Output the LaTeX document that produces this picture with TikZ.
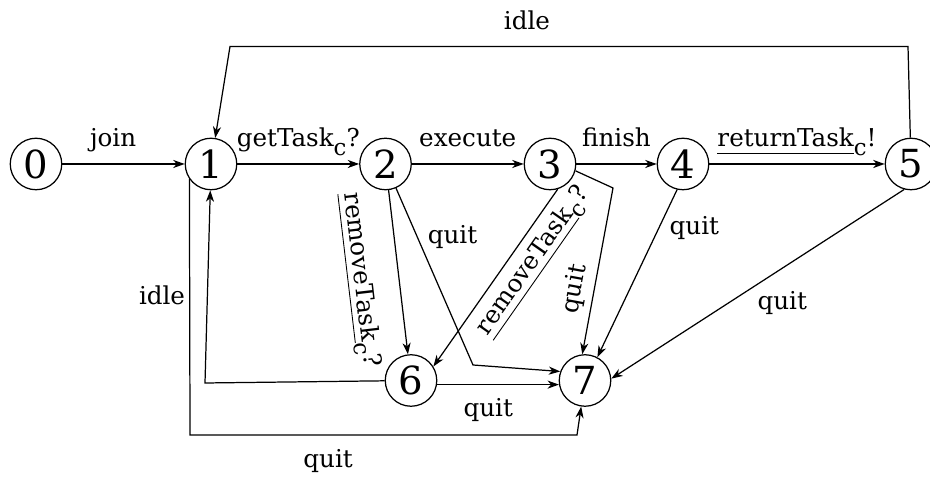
\documentclass[tikz,border=0pt]{standalone}
\usepackage{fontspec}
\setmainfont{DejaVu Serif}
\usepackage{tikz}
\usetikzlibrary{arrows.meta,positioning}
% fonts for locations and edge labels
\newcommand{\locfont}{\fontsize{22}{24}\selectfont}
\newcommand{\lblfont}{\fontsize{14}{16}\selectfont}
% lowered channel index and underlined action name
\newcommand{\lowc}{\raisebox{-5pt}{\fontsize{13}{13}\selectfont c}}
\newcommand{\ulbl}[1]{\setbox0=\hbox{#1}\rlap{\rule[-4pt]{\wd0}{0.5pt}}\box0}
\tikzset{
  % Location (circle)
  loc/.style={circle,draw,minimum size=1.03cm,inner sep=0pt,
    font=\locfont,line width=0.7pt},
  % Transition arrow
  arr/.style={-{Stealth[length=6.5pt,width=4.6pt,inset=2pt]},line width=0.7pt},
  % Edge labels
  lbl/.style={font=\lblfont,inner sep=0pt},
  toplbl/.style={lbl,anchor=base,yshift=0.34cm},
}

\begin{document}
\begin{tikzpicture}
  \useasboundingbox (0,0) rectangle (18.6,9.54);

  % Locations
  \node[loc] (n0) at (0.72,6.26) {0};
  \node[loc] (n1) at (4.22,6.26) {1};
  \node[loc] (n2) at (7.71,6.26) {2};
  \node[loc] (n3) at (11.0,6.26) {3};
  \node[loc] (n4) at (13.66,6.26) {4};
  \node[loc] (n5) at (18.22,6.26) {5};
  \node[loc] (n6) at (8.22,1.93) {6};
  \node[loc] (n7) at (11.70,1.93) {7};

  % Main line of work
  \draw[arr] (n0) -- node[toplbl,pos=0.415] {join} (n1);
  \draw[arr] (n1) -- node[toplbl] {getTask\lowc?} (n2);
  \draw[arr] (n2) -- node[toplbl] {execute} (n3);
  \draw[arr] (n3) -- node[toplbl] {finish} (n4);
  \draw[arr,line width=1.2pt] (n4) -- node[toplbl] {\ulbl{returnTask}\lowc!} (n5);

  % Back to 1
  \draw[arr] (n5) -- (18.16,8.61)
    -- node[toplbl,pos=0.562] {idle} (4.6,8.61) -- (n1);
  \draw[arr] (n6) -- (4.1,1.88)
    -- node[lbl,pos=0.41,anchor=base east,xshift=-0.43cm] {idle} (n1);

  % Task removed
  \draw[arr] (n2) -- node[lbl,sloped,below=0.5cm,pos=0.52]
    {\ulbl{removeTask}\lowc?} (n6);
  \draw[arr] (n3.-73) -- node[lbl,sloped,below=0.16cm,pos=0.337]
    {\ulbl{removeTask}\lowc?} (n6.32);

  % Quitting
  \draw[arr] (n1.215) -- (3.8,0.84)
    -- node[lbl,pos=0.357,anchor=base,yshift=-0.66cm] {quit} (11.54,0.84) -- (n7);
  \draw[arr] (n2) -- node[lbl,pos=0.315,anchor=base west,xshift=0.14cm] {quit}
    (9.46,2.24) -- (n7.160);
  \draw[arr] (n3.-15) -- (12.26,5.78)
    -- node[lbl,sloped,above=0.13cm,pos=0.63] {quit} (n7.96);
  \draw[arr] (n4.257) -- node[lbl,pos=0.27,anchor=base west,xshift=0.27cm] {quit} (n7.62);
  \draw[arr] (n5.255) -- node[lbl,pos=0.636,anchor=base west,xshift=0.78cm] {quit} (n7.4);
  \draw[arr] (n6.-9) -- node[lbl,pos=0.42,anchor=base,yshift=-0.64cm] {quit} (n7.189);
\end{tikzpicture}
\end{document}
